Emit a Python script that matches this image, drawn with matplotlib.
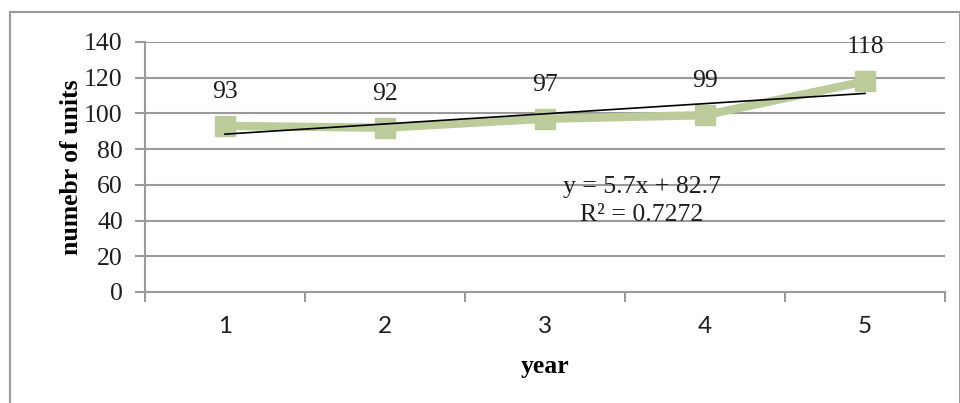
import matplotlib.pyplot as plt
import numpy as np

years = [1, 2, 3, 4, 5]
units = [93, 92, 97, 99, 118]
data_labels = ['93', '92', '97', '99', '118']
yticks = [0, 20, 40, 60, 80, 100, 120, 140]

# linear trendline (least squares, as in the spreadsheet)
slope, intercept = np.polyfit(years, units, 1)
pred = slope * np.array(years) + intercept
r2 = 1 - np.sum((np.array(units) - pred) ** 2) / np.sum((np.array(units) - np.mean(units)) ** 2)

fig = plt.figure(figsize=(9.6, 4.03), dpi=100)
ax = fig.add_axes([145 / 960, 1 - 292 / 403, 800 / 960, 250 / 403])

grid_col = '#9a9a9a'
txt_col = '#1e1e1e'
serif = ['Liberation Serif', 'DejaVu Serif']
fs = 18.5

for y in yticks:
    ax.axhline(y, color=grid_col, lw=1.5, zorder=0)

ax.plot(years, units, color='#bbcb99', lw=6, marker='s', markersize=15,
        markerfacecolor='#bbcb99', markeredgecolor='#bbcb99', zorder=2)
ax.plot(years, pred, color='black', lw=1.2, zorder=3)

for x, y, t in zip(years, units, data_labels):
    ax.annotate(t, (x, y), xytext=(0, 24.5), textcoords='offset points',
                ha='center', va='center', fontsize=fs, family=serif, color=txt_col)

ax.text(3.606, 51, f'y = {slope:.1f}x + {intercept:.1f}\nR² = {r2:.4f}', ha='center', va='center',
        fontsize=fs, family=serif, color=txt_col, linespacing=1.35)

ax.set_xlim(0.5, 5.5)
ax.set_ylim(0, 140)
ax.set_yticks(yticks)
ax.set_yticklabels([str(v) for v in yticks], family=serif, fontsize=fs, color=txt_col)
ax.set_xticks(years)
ax.set_xticklabels([str(v) for v in years], family=['Lato', 'DejaVu Sans'], fontsize=17.5, color=txt_col)
ax.set_xticks(np.arange(0.5, 6, 1), minor=True)
ax.tick_params(axis='x', which='major', length=0, pad=17)
ax.tick_params(axis='x', which='minor', length=7, width=1.5, color=grid_col)
ax.tick_params(axis='y', length=7, width=1.5, color=grid_col, pad=9)

for s in ['top', 'right']:
    ax.spines[s].set_visible(False)
ax.spines['left'].set_color(grid_col)
ax.spines['left'].set_linewidth(1.5)
ax.spines['bottom'].set_color(grid_col)
ax.spines['bottom'].set_linewidth(1.5)

ax.set_ylabel('numebr of units', family=serif, fontsize=fs, fontweight='bold', labelpad=1)
ax.set_xlabel('year', family=serif, fontsize=fs, fontweight='bold', labelpad=13)

# outer chart border
fig.patches.append(plt.Rectangle((10 / 960, -0.05), 950 / 960, 1.05 - 12 / 403,
                                 transform=fig.transFigure, fill=False, edgecolor='#9a9a9a', lw=1.5))

fig.savefig('out.png', dpi=100)
